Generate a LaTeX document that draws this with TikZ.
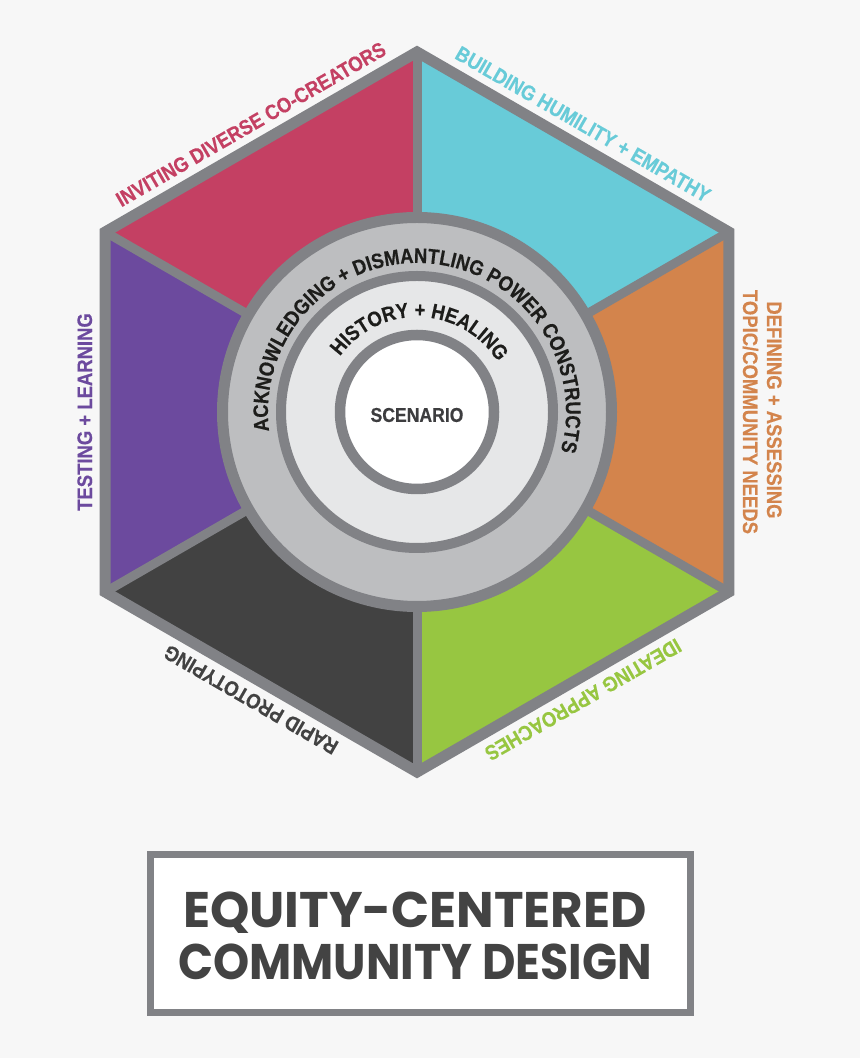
\documentclass[tikz,border=0pt]{standalone}
\usepackage{fontspec}
\usetikzlibrary{calc,decorations.text}
\newfontfamily\labfont[FakeStretch=0.88,FakeBold=0.4]{Liberation Sans Bold}
\newfontfamily\titlefont{Poppins}
\definecolor{bg}{HTML}{F7F7F7}
\definecolor{pinkc}{HTML}{C44063}
\definecolor{cyanc}{HTML}{68CBD8}
\definecolor{orangec}{HTML}{D3844C}
\definecolor{greenc}{HTML}{97C641}
\definecolor{darkc}{HTML}{424242}
\definecolor{purplec}{HTML}{6C4A9E}
\definecolor{grayc}{HTML}{818286}
\definecolor{ringc}{HTML}{BDBEC0}
\definecolor{midc}{HTML}{E6E7E8}
\definecolor{scenc}{HTML}{3D3D3F}
\definecolor{curvec}{HTML}{1D1D1B}
\definecolor{titlec}{HTML}{434343}
\tikzset{
  lab/.style={font=\labfont\fontsize{21}{24}\selectfont, inner sep=0pt, anchor=base},
  spoke/.style={draw=grayc, line width=9pt},
  ringnode/.style={circle, draw=grayc, inner sep=0pt},
  titletext/.style={font=\titlefont\bfseries\fontsize{50}{60}\selectfont, text=titlec, anchor=base, inner sep=0pt}
}
\begin{document}
\begin{tikzpicture}[x=1pt,y=1pt]
\fill[bg] (0,0) rectangle (860,1058);
\useasboundingbox (0,0) rectangle (860,1058);
\coordinate (C) at (417,646);
\foreach \a/\n in {90/t,150/ul,210/ll,270/b,330/lr,30/ur}
  \coordinate (v\n) at ($(C)+(\a:360)$);
% segments
\fill[pinkc]   (C) -- (vt) -- (vul) -- cycle;
\fill[cyanc]   (C) -- (vt) -- (vur) -- cycle;
\fill[orangec] (C) -- (vur) -- (vlr) -- cycle;
\fill[greenc]  (C) -- (vlr) -- (vb) -- cycle;
\fill[darkc]   (C) -- (vb) -- (vll) -- cycle;
\fill[purplec] (C) -- (vll) -- (vul) -- cycle;
% spokes
\foreach \n in {t,ul,ll,b,lr,ur} \draw[spoke] (C) -- (v\n);
% hexagon border
\draw[grayc, line width=11pt, line join=miter] (vt) -- (vur) -- (vlr) -- (vb) -- (vll) -- (vul) -- cycle;
% circles
\node[ringnode, line width=11pt, fill=ringc, minimum size=389pt] (outerring) at (C) {};
\node[ringnode, line width=10pt, fill=midc, minimum size=272pt] (midring) at (C) {};
\node[ringnode, line width=10.5pt, fill=white, minimum size=154pt] (inner) at (C) {};
\node[font=\labfont\fontsize{20}{24}\selectfont, text=scenc, inner sep=0pt] (scen) at ($(C)+(0,-3)$) {SCENARIO};
% curved texts
\path[decorate, decoration={text along path, text color=curvec,
  text={|\labfont\fontsize{21}{24}\selectfont|ACKNOWLEDGING + DISMANTLING POWER CONSTRUCTS},
  text align=center}]
  ($(C)+(196:149)$) arc[start angle=196, end angle=-24, radius=149];
\path[decorate, decoration={text along path, text color=curvec,
  text={|\labfont\fontsize{21}{24}\selectfont|HISTORY + HEALING},
  text align=center}]
  ($(C)+(178:95)$) arc[start angle=178, end angle=-2, radius=95];
% edge labels
\node[lab, text=pinkc, rotate=30] (lpink) at ($(C)+(120:325)$) {INVITING DIVERSE CO-CREATORS};
\node[lab, text=cyanc, rotate=-30] (lcyan) at ($(C)+(60:325)$) {BUILDING HUMILITY + EMPATHY};
\node[lab, text=orangec, rotate=-90] (lorange2) at ($(C)+(0:326)$) {TOPIC/COMMUNITY NEEDS};
\node[lab, text=orangec, rotate=-90] (lorange1) at ($(C)+(0:350)+(0,2)$) {DEFINING + ASSESSING};
\node[lab, text=greenc, rotate=210] (lgreen) at ($(C)+(300:325)$) {IDEATING APPROACHES};
\node[lab, text=darkc, rotate=150] (ldark) at ($(C)+(240:325)$) {RAPID PROTOTYPING};
\node[lab, text=purplec, rotate=90] (lpurple) at ($(C)+(180:325)$) {TESTING + LEARNING};
% title box
\node[draw=grayc, line width=7pt, fill=white, minimum width=540pt, minimum height=158pt, inner sep=0pt] (box) at (420.5,124.5) {};
\node[titletext] (t1) at (415,130) {EQUITY-CENTERED};
\node[titletext] (t2) at (415,78) {\scalebox{0.92}[1]{COMMUNITY DESIGN}};
\end{tikzpicture}
\end{document}
